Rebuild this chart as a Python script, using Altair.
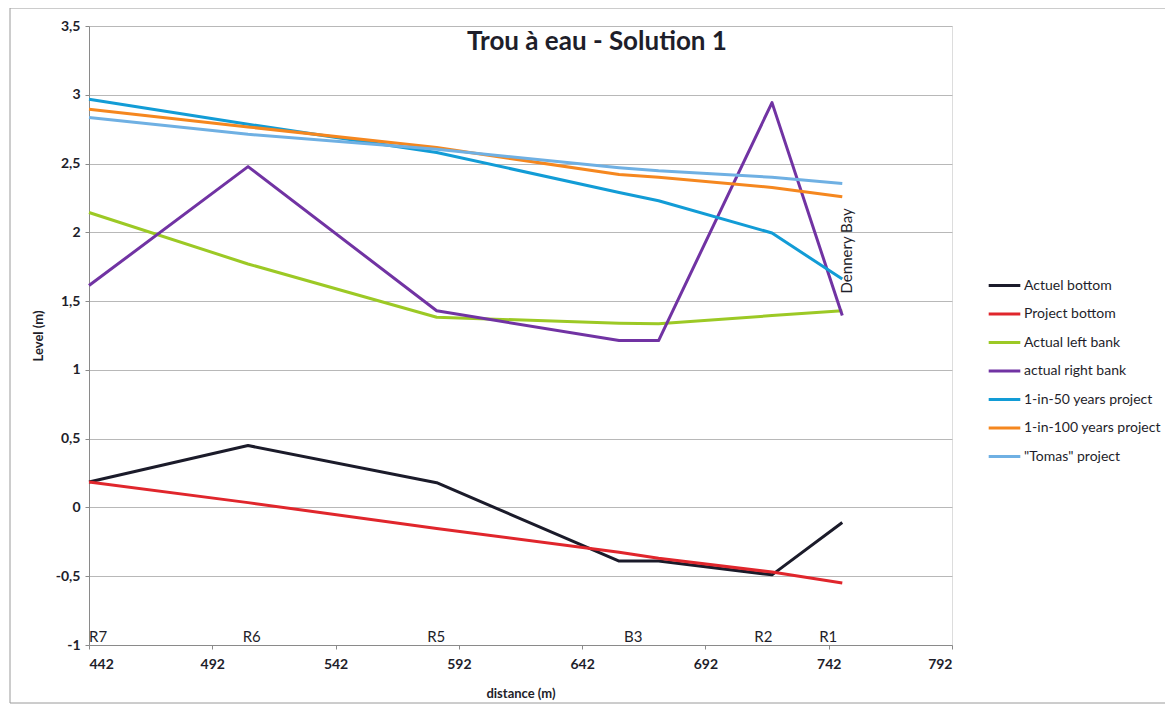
import altair as alt
import pandas as pd

# Distances (m) of the profile points
distance = [442, 506.5, 583, 657, 673, 719, 747.5]

# Series values (m)
actuel_bottom = [0.185, 0.45, 0.18, -0.39, -0.39, -0.49, -0.11]
project_bottom = [0.185, 0.035, -0.153, -0.325, -0.37, -0.47, -0.55]
actual_left_bank = [2.144, 1.77, 1.383, 1.339, 1.335, 1.395, 1.43]
actual_right_bank = [1.613, 2.478, 1.43, 1.213, 1.213, 2.943, 1.395]
one_in_50 = [2.967, 2.786, 2.58, 2.29, 2.23, 1.995, 1.66]
one_in_100 = [2.895, 2.766, 2.616, 2.42, 2.40, 2.326, 2.258]
tomas = [2.834, 2.713, 2.604, 2.47, 2.447, 2.40, 2.355]

series_names = [
    "Actuel bottom",
    "Project bottom",
    "Actual left bank",
    "actual right bank",
    "1-in-50 years project",
    "1-in-100 years project",
    "\"Tomas\" project",
]
series_values = [actuel_bottom, project_bottom, actual_left_bank, actual_right_bank,
                 one_in_50, one_in_100, tomas]
series_colors = ["#1b1b2a", "#e0262c", "#9cc925", "#7133a3", "#129cd6", "#f5871f", "#6fb0e3"]

# Station labels
station_labels = ["R7", "R6", "R5", "B3", "R2", "R1"]
station_label_x = [445.7, 508, 582.8, 662.7, 715.5, 741.8]
station_label_y = [-1, -1, -1, -1, -1, -1]

# Outlet annotation
outlet_label = ["Dennery Bay"]
outlet_x = [749.5]
outlet_y = [1.865]

chart_title = ["Trou à eau - Solution 1"]

x_ticks = [442, 492, 542, 592, 642, 692, 742, 792]
y_ticks = [-1, -0.5, 0, 0.5, 1, 1.5, 2, 2.5, 3, 3.5]

rows = []
for name, vals in zip(series_names, series_values):
    for i, (d, v) in enumerate(zip(distance, vals)):
        rows.append({"series": name, "distance": d, "level": v, "order": i})
df = pd.DataFrame(rows)

stations = pd.DataFrame({"label": station_labels, "distance": station_label_x, "level": station_label_y})
outlet = pd.DataFrame({"label": outlet_label, "distance": outlet_x, "level": outlet_y})
title_df = pd.DataFrame({"t": chart_title})

FONT = "Lato"
TXT = "#1e1e2a"

x_scale = alt.Scale(domain=[442, 792], nice=False, zero=False)
y_scale = alt.Scale(domain=[-1, 3.5], nice=False, zero=False)

frame = alt.Chart(pd.DataFrame({"k": [0]})).mark_rect(
    fill=None, stroke="#9a9a9a", strokeWidth=1, clip=False
).encode(
    x=alt.value(-79), x2=alt.value(1140), y=alt.value(-18), y2=alt.value(677)
)

lines = alt.Chart(df).mark_line(strokeWidth=3, clip=False, strokeJoin="round").encode(
    x=alt.X("distance:Q", scale=x_scale,
            axis=alt.Axis(values=x_ticks, title="distance (m)", grid=False,
                          domainColor="#8a8a8a", tickColor="#8a8a8a", tickSize=4,
                          labelPadding=8, labelFont=FONT, labelFontSize=14,
                          labelFontWeight="bold", labelColor=TXT,
                          titleFont=FONT, titleFontSize=13, titleFontWeight="bold",
                          titleColor=TXT, titleY=48, titleBaseline="middle")),
    y=alt.Y("level:Q", scale=y_scale,
            axis=alt.Axis(values=y_ticks, title="Level (m)", grid=True,
                          gridColor="#b8b8b8", gridWidth=1,
                          domainColor="#8a8a8a", tickColor="#8a8a8a", tickSize=4,
                          labelPadding=5, labelFont=FONT, labelFontSize=14,
                          labelFontWeight="bold", labelColor=TXT,
                          labelExpr="replace(toString(datum.value), '.', ',')",
                          titleFont=FONT, titleFontSize=13, titleFontWeight="bold",
                          titleColor=TXT, titleX=-51, titleY=309.5,
                          titleAngle=270, titleBaseline="middle")),
    color=alt.Color("series:N",
                    scale=alt.Scale(domain=series_names, range=series_colors),
                    legend=alt.Legend(title=None, orient="none", legendX=898, legendY=242,
                                      symbolType="stroke", symbolSize=1000,
                                      symbolStrokeWidth=3, labelFont=FONT,
                                      labelFontSize=14, labelColor=TXT,
                                      labelOffset=2, rowPadding=3.5)),
    order="order:Q",
)

station_text = alt.Chart(stations).mark_text(
    font=FONT, fontSize=15, color=TXT, baseline="alphabetic", align="center", dy=-3
).encode(
    x=alt.X("distance:Q", scale=x_scale),
    y=alt.Y("level:Q", scale=y_scale),
    text="label:N",
)

outlet_text = alt.Chart(outlet).mark_text(
    font=FONT, fontSize=15, color=TXT, angle=270, align="center", baseline="middle"
).encode(
    x=alt.X("distance:Q", scale=x_scale),
    y=alt.Y("level:Q", scale=y_scale),
    text="label:N",
)

title_text = alt.Chart(title_df).mark_text(
    font=FONT, fontSize=26, fontWeight="bold", color=TXT, align="center", baseline="middle"
).encode(
    x=alt.value(508), y=alt.value(16), text="t:N"
)

chart = alt.layer(frame, lines, station_text, outlet_text, title_text).properties(
    width=863,
    height=619,
    padding={"left": 81, "top": 18, "right": 213, "bottom": 64},
    autosize=alt.AutoSizeParams(type="none"),
).configure_view(stroke=None).configure(background="white")

chart.save("out.html", embed_options={"renderer": "svg", "actions": False})
